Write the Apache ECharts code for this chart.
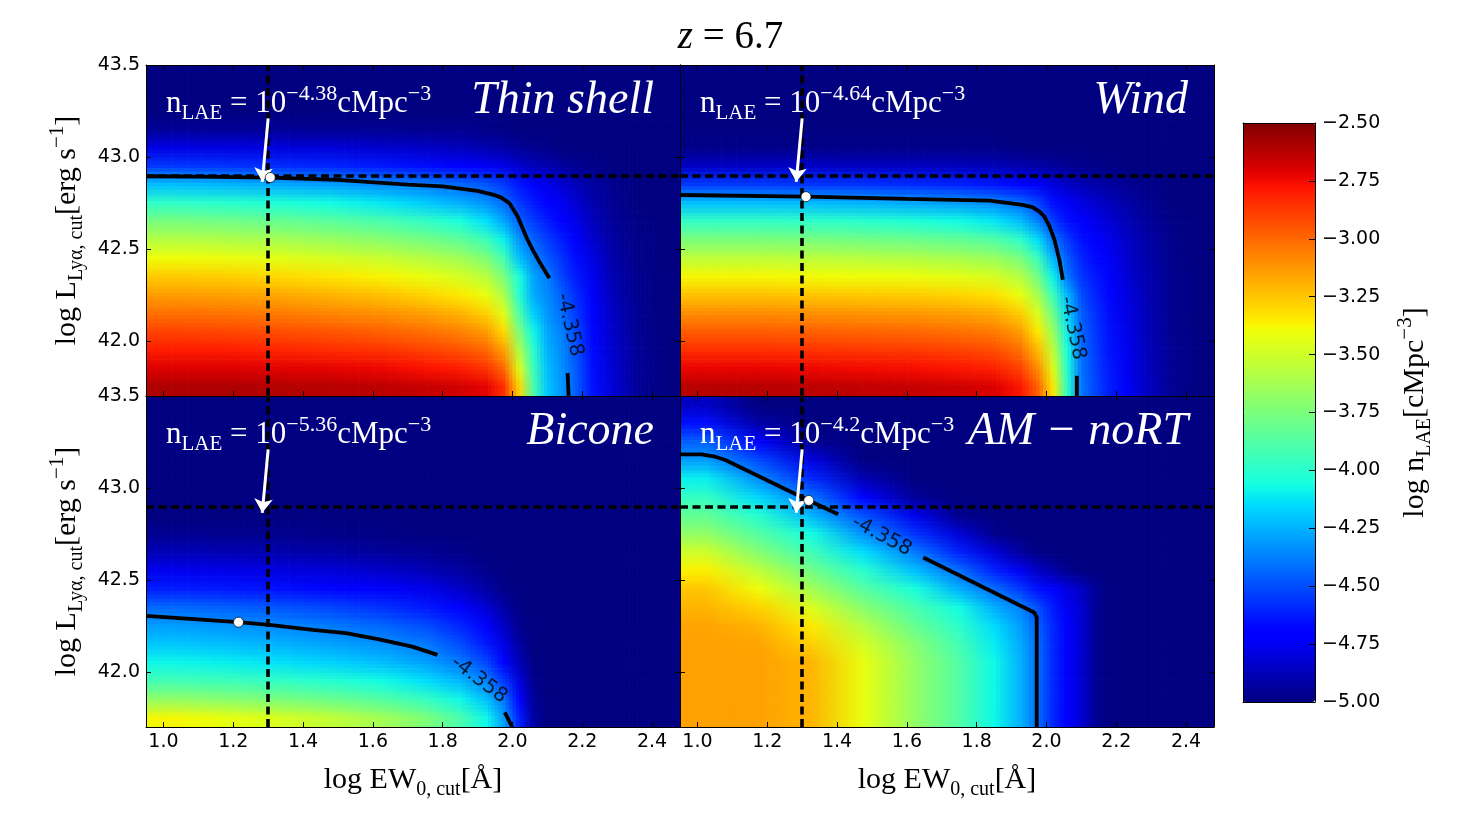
<!DOCTYPE html>
<html>
<head>
<meta charset="utf-8">
<script src="https://cdn.jsdelivr.net/npm/echarts@6/dist/echarts.min.js"></script>
<style>
  html, body { margin: 0; padding: 0; background: #fff; }
  #chart { width: 1461px; height: 826px; }
</style>
</head>
<body>
<div id="chart"></div>
<script>
// bin edges of the n_LAE grids (log EW0,cut and log L_Lya,cut)
const xEdges = [0.95, 1.1, 1.25, 1.4, 1.55, 1.7, 1.8, 1.9, 1.95, 2.0, 2.04, 2.08, 2.12, 2.16, 2.2, 2.26, 2.32, 2.4, 2.48];
const yEdges = [41.7, 41.8, 41.9, 42.0, 42.1, 42.2, 42.3, 42.4, 42.5, 42.6, 42.7, 42.8, 42.9, 43.0, 43.1, 43.2, 43.3, 43.4, 43.5];

const xTicks = [1.0, 1.2, 1.4, 1.6, 1.8, 2.0, 2.2, 2.4];
const yTicks = [42.0, 42.5, 43.0, 43.5];

// log n_LAE, one row per luminosity bin (bottom -> top), one value per EW bin
const thinShell = [
  [-2.6, -2.6, -2.61, -2.62, -2.63, -2.65, -2.68, -2.72, -2.85, -3.3, -3.9, -4.2, -4.32, -4.45, -4.65, -4.82, -4.95, -5],
  [-2.7, -2.7, -2.71, -2.72, -2.74, -2.77, -2.8, -2.86, -3.0, -3.45, -3.95, -4.22, -4.33, -4.46, -4.66, -4.83, -4.95, -5],
  [-2.8, -2.8, -2.82, -2.84, -2.86, -2.9, -2.94, -3.0, -3.15, -3.6, -4.0, -4.25, -4.35, -4.48, -4.67, -4.84, -4.95, -5],
  [-2.9, -2.91, -2.93, -2.95, -2.98, -3.02, -3.07, -3.14, -3.3, -3.75, -4.08, -4.28, -4.37, -4.5, -4.68, -4.85, -4.96, -5],
  [-3.02, -3.03, -3.05, -3.08, -3.11, -3.15, -3.2, -3.28, -3.45, -3.9, -4.18, -4.32, -4.42, -4.54, -4.7, -4.86, -4.96, -5],
  [-3.14, -3.15, -3.17, -3.2, -3.24, -3.29, -3.34, -3.42, -3.6, -4.02, -4.27, -4.35, -4.45, -4.58, -4.73, -4.88, -4.97, -5],
  [-3.26, -3.27, -3.3, -3.33, -3.37, -3.42, -3.48, -3.57, -3.75, -4.05, -4.29, -4.38, -4.52, -4.62, -4.76, -4.9, -4.97, -5],
  [-3.4, -3.41, -3.44, -3.48, -3.52, -3.58, -3.64, -3.74, -3.92, -4.22, -4.36, -4.47, -4.56, -4.66, -4.79, -4.91, -4.98, -5],
  [-3.58, -3.59, -3.62, -3.66, -3.71, -3.77, -3.84, -3.94, -4.1, -4.33, -4.45, -4.54, -4.62, -4.72, -4.83, -4.93, -4.98, -5],
  [-3.76, -3.78, -3.81, -3.85, -3.9, -3.97, -4.04, -4.14, -4.28, -4.45, -4.54, -4.62, -4.69, -4.77, -4.87, -4.95, -4.99, -5],
  [-3.98, -4.0, -4.03, -4.07, -4.12, -4.19, -4.26, -4.33, -4.42, -4.55, -4.63, -4.69, -4.75, -4.82, -4.9, -4.96, -5, -5],
  [-4.22, -4.24, -4.27, -4.3, -4.34, -4.38, -4.43, -4.48, -4.55, -4.64, -4.71, -4.77, -4.82, -4.87, -4.93, -4.97, -5, -5],
  [-4.55, -4.56, -4.58, -4.6, -4.63, -4.66, -4.7, -4.74, -4.78, -4.83, -4.87, -4.9, -4.93, -4.96, -4.98, -5, -5, -5],
  [-4.78, -4.79, -4.8, -4.81, -4.83, -4.85, -4.87, -4.9, -4.92, -4.95, -4.97, -4.98, -5, -5, -5, -5, -5, -5],
  [-4.95, -4.95, -4.95, -4.96, -4.96, -4.97, -4.97, -4.98, -4.99, -5, -5, -5, -5, -5, -5, -5, -5, -5],
  [-5, -5, -5, -5, -5, -5, -5, -5, -5, -5, -5, -5, -5, -5, -5, -5, -5, -5],
  [-5, -5, -5, -5, -5, -5, -5, -5, -5, -5, -5, -5, -5, -5, -5, -5, -5, -5],
  [-5, -5, -5, -5, -5, -5, -5, -5, -5, -5, -5, -5, -5, -5, -5, -5, -5, -5]
];
const wind = [
  [-2.62, -2.62, -2.63, -2.64, -2.65, -2.67, -2.7, -2.78, -2.98, -3.35, -4.0, -4.4, -4.52, -4.62, -4.74, -4.86, -4.96, -5],
  [-2.73, -2.73, -2.74, -2.75, -2.76, -2.78, -2.81, -2.9, -3.1, -3.45, -4.03, -4.41, -4.53, -4.63, -4.75, -4.87, -4.96, -5],
  [-2.85, -2.85, -2.86, -2.87, -2.88, -2.9, -2.93, -3.02, -3.22, -3.55, -4.06, -4.42, -4.54, -4.64, -4.76, -4.87, -4.96, -5],
  [-2.97, -2.97, -2.98, -2.99, -3.0, -3.02, -3.05, -3.14, -3.34, -3.67, -4.1, -4.44, -4.55, -4.65, -4.77, -4.88, -4.97, -5],
  [-3.1, -3.1, -3.11, -3.12, -3.13, -3.15, -3.18, -3.27, -3.47, -3.8, -4.16, -4.46, -4.57, -4.66, -4.78, -4.88, -4.97, -5],
  [-3.24, -3.24, -3.25, -3.26, -3.27, -3.29, -3.32, -3.42, -3.62, -3.95, -4.24, -4.5, -4.6, -4.68, -4.79, -4.89, -4.97, -5],
  [-3.38, -3.38, -3.39, -3.4, -3.41, -3.44, -3.48, -3.58, -3.78, -4.1, -4.4, -4.56, -4.63, -4.71, -4.81, -4.9, -4.97, -5],
  [-3.55, -3.55, -3.56, -3.57, -3.59, -3.62, -3.66, -3.76, -3.95, -4.25, -4.47, -4.6, -4.67, -4.74, -4.83, -4.91, -4.98, -5],
  [-3.75, -3.75, -3.76, -3.78, -3.8, -3.83, -3.88, -3.98, -4.15, -4.4, -4.55, -4.65, -4.71, -4.77, -4.85, -4.92, -4.98, -5],
  [-3.97, -3.97, -3.98, -4.0, -4.03, -4.07, -4.12, -4.22, -4.37, -4.55, -4.65, -4.72, -4.77, -4.82, -4.88, -4.94, -4.99, -5],
  [-4.22, -4.22, -4.23, -4.25, -4.28, -4.31, -4.35, -4.42, -4.53, -4.66, -4.74, -4.79, -4.83, -4.87, -4.92, -4.96, -5, -5],
  [-4.55, -4.55, -4.56, -4.57, -4.59, -4.61, -4.64, -4.68, -4.74, -4.8, -4.85, -4.88, -4.91, -4.93, -4.96, -4.98, -5, -5],
  [-4.85, -4.85, -4.85, -4.86, -4.86, -4.87, -4.88, -4.9, -4.92, -4.94, -4.96, -4.97, -4.98, -4.99, -5, -5, -5, -5],
  [-4.98, -4.98, -4.98, -4.98, -4.98, -4.98, -4.98, -5, -5, -5, -5, -5, -5, -5, -5, -5, -5, -5],
  [-5, -5, -5, -5, -5, -5, -5, -5, -5, -5, -5, -5, -5, -5, -5, -5, -5, -5],
  [-5, -5, -5, -5, -5, -5, -5, -5, -5, -5, -5, -5, -5, -5, -5, -5, -5, -5],
  [-5, -5, -5, -5, -5, -5, -5, -5, -5, -5, -5, -5, -5, -5, -5, -5, -5, -5],
  [-5, -5, -5, -5, -5, -5, -5, -5, -5, -5, -5, -5, -5, -5, -5, -5, -5, -5]
];
const bicone = [
  [-3.38, -3.42, -3.47, -3.54, -3.63, -3.74, -3.9, -4.08, -4.3, -4.62, -4.92, -5, -5, -5, -5, -5, -5, -5],
  [-3.68, -3.71, -3.75, -3.8, -3.87, -3.96, -4.08, -4.22, -4.4, -4.7, -4.95, -5, -5, -5, -5, -5, -5, -5],
  [-3.92, -3.94, -3.97, -4.01, -4.07, -4.14, -4.24, -4.37, -4.55, -4.8, -4.97, -5, -5, -5, -5, -5, -5, -5],
  [-4.08, -4.1, -4.13, -4.17, -4.22, -4.29, -4.39, -4.52, -4.68, -4.88, -4.99, -5, -5, -5, -5, -5, -5, -5],
  [-4.2, -4.22, -4.25, -4.29, -4.33, -4.39, -4.5, -4.63, -4.78, -4.93, -5, -5, -5, -5, -5, -5, -5, -5],
  [-4.3, -4.32, -4.35, -4.39, -4.44, -4.5, -4.6, -4.72, -4.85, -4.97, -5, -5, -5, -5, -5, -5, -5, -5],
  [-4.43, -4.45, -4.48, -4.52, -4.57, -4.63, -4.72, -4.82, -4.92, -4.99, -5, -5, -5, -5, -5, -5, -5, -5],
  [-4.62, -4.63, -4.65, -4.68, -4.72, -4.77, -4.84, -4.92, -4.98, -5, -5, -5, -5, -5, -5, -5, -5, -5],
  [-4.76, -4.77, -4.79, -4.81, -4.84, -4.88, -4.93, -4.97, -5, -5, -5, -5, -5, -5, -5, -5, -5, -5],
  [-4.88, -4.89, -4.9, -4.92, -4.94, -4.96, -4.98, -5, -5, -5, -5, -5, -5, -5, -5, -5, -5, -5],
  [-4.96, -4.97, -4.97, -4.98, -4.99, -5, -5, -5, -5, -5, -5, -5, -5, -5, -5, -5, -5, -5],
  [-5, -5, -5, -5, -5, -5, -5, -5, -5, -5, -5, -5, -5, -5, -5, -5, -5, -5],
  [-5, -5, -5, -5, -5, -5, -5, -5, -5, -5, -5, -5, -5, -5, -5, -5, -5, -5],
  [-5, -5, -5, -5, -5, -5, -5, -5, -5, -5, -5, -5, -5, -5, -5, -5, -5, -5],
  [-5, -5, -5, -5, -5, -5, -5, -5, -5, -5, -5, -5, -5, -5, -5, -5, -5, -5],
  [-5, -5, -5, -5, -5, -5, -5, -5, -5, -5, -5, -5, -5, -5, -5, -5, -5, -5],
  [-5, -5, -5, -5, -5, -5, -5, -5, -5, -5, -5, -5, -5, -5, -5, -5, -5, -5],
  [-5, -5, -5, -5, -5, -5, -5, -5, -5, -5, -5, -5, -5, -5, -5, -5, -5, -5]
];
const amNoRT = [
  [-3.15, -3.15, -3.2, -3.42, -3.68, -3.88, -4.08, -4.25, -4.42, -4.6, -4.72, -4.82, -4.95, -5, -5, -5, -5, -5],
  [-3.15, -3.15, -3.2, -3.42, -3.68, -3.88, -4.08, -4.25, -4.42, -4.6, -4.72, -4.82, -4.95, -5, -5, -5, -5, -5],
  [-3.15, -3.15, -3.2, -3.42, -3.68, -3.88, -4.08, -4.25, -4.42, -4.6, -4.72, -4.82, -4.95, -5, -5, -5, -5, -5],
  [-3.15, -3.15, -3.2, -3.42, -3.68, -3.88, -4.08, -4.25, -4.42, -4.6, -4.72, -4.82, -4.95, -5, -5, -5, -5, -5],
  [-3.15, -3.16, -3.27, -3.48, -3.72, -3.92, -4.11, -4.27, -4.42, -4.6, -4.72, -4.82, -4.95, -5, -5, -5, -5, -5],
  [-3.16, -3.2, -3.34, -3.58, -3.82, -3.99, -4.15, -4.3, -4.45, -4.6, -4.72, -4.82, -4.95, -5, -5, -5, -5, -5],
  [-3.2, -3.28, -3.46, -3.71, -3.91, -4.07, -4.26, -4.37, -4.5, -4.63, -4.75, -4.82, -4.95, -5, -5, -5, -5, -5],
  [-3.25, -3.4, -3.63, -3.86, -4.05, -4.26, -4.42, -4.55, -4.65, -4.71, -4.79, -4.85, -4.95, -5, -5, -5, -5, -5],
  [-3.36, -3.55, -3.78, -4.0, -4.22, -4.42, -4.61, -4.75, -4.85, -4.91, -4.97, -5, -5, -5, -5, -5, -5, -5],
  [-3.5, -3.72, -3.93, -4.14, -4.39, -4.61, -4.81, -4.93, -4.99, -5, -5, -5, -5, -5, -5, -5, -5, -5],
  [-3.68, -3.87, -4.06, -4.33, -4.57, -4.81, -4.97, -5, -5, -5, -5, -5, -5, -5, -5, -5, -5, -5],
  [-3.83, -4.01, -4.24, -4.49, -4.77, -4.97, -5, -5, -5, -5, -5, -5, -5, -5, -5, -5, -5, -5],
  [-3.97, -4.16, -4.4, -4.69, -4.95, -5, -5, -5, -5, -5, -5, -5, -5, -5, -5, -5, -5, -5],
  [-4.1, -4.34, -4.59, -4.89, -5, -5, -5, -5, -5, -5, -5, -5, -5, -5, -5, -5, -5, -5],
  [-4.3, -4.51, -4.79, -5, -5, -5, -5, -5, -5, -5, -5, -5, -5, -5, -5, -5, -5, -5],
  [-4.45, -4.71, -4.96, -5, -5, -5, -5, -5, -5, -5, -5, -5, -5, -5, -5, -5, -5, -5],
  [-4.65, -4.91, -5, -5, -5, -5, -5, -5, -5, -5, -5, -5, -5, -5, -5, -5, -5, -5],
  [-4.85, -5, -5, -5, -5, -5, -5, -5, -5, -5, -5, -5, -5, -5, -5, -5, -5, -5]
];

// iso-contour log n_LAE = -4.358 (two pieces, gap where the label sits)
const thinShellContourA = [[0.95, 42.895], [1.1, 42.893], [1.306, 42.888], [1.5, 42.875], [1.7, 42.85], [1.8, 42.84], [1.9, 42.815], [1.944, 42.795], [1.967, 42.78], [1.991, 42.749], [2.015, 42.676], [2.039, 42.567], [2.058, 42.495], [2.08, 42.42], [2.106, 42.34]];
const thinShellContourB = [[2.158, 41.824], [2.161, 41.7]];
const windContourA = [[0.95, 42.793], [1.311, 42.784], [1.6, 42.772], [1.837, 42.763], [1.932, 42.739], [1.961, 42.726], [1.98, 42.703], [1.994, 42.676], [2.009, 42.621], [2.023, 42.549], [2.037, 42.44], [2.047, 42.332]];
const windContourB = [[2.087, 41.81], [2.087, 41.7]];
const biconeContourA = [[0.95, 42.304], [1.215, 42.27], [1.304, 42.255], [1.428, 42.228], [1.523, 42.21], [1.618, 42.177], [1.713, 42.137], [1.785, 42.092]];
const biconeContourB = [[1.978, 41.78], [1.999, 41.7]];
const amNoRTContourA = [[0.95, 43.183], [1.011, 43.183], [1.051, 43.17], [1.08, 43.152], [1.319, 42.932], [1.403, 42.857]];
const amNoRTContourB = [[1.647, 42.622], [1.965, 42.323], [1.972, 42.296], [1.972, 41.7]];

const contourLevel = '-4.358';
const contourLabelAt = [[2.163, 42.087], [2.075, 42.069], [1.904, 41.957], [1.528, 42.739]];
const contourLabelRotate = [-77, -78, -37, -28];

const selectedPoints = [[1.306, 42.888], [1.311, 42.784], [1.215, 42.27], [1.319, 42.932]];
const ewCut = 1.3;
const lumCut = 42.9;
const arrowFrom = [1.3, 43.21];
const arrowTo = [1.283, 42.865];

const panelNames = ['Thin shell', 'Wind', 'Bicone', 'AM \u2212 noRT'];
const nExponents = ['\u22124.38', '\u22124.64', '\u22125.36', '\u22124.2'];

const cbarMin = -5.0, cbarMax = -2.5, cbarStep = 0.25;

// ---- jet colormap (matplotlib segment data)
const jetR = [[0, 0], [0.35, 0], [0.66, 1], [0.89, 1], [1, 0.5]];
const jetG = [[0, 0], [0.125, 0], [0.375, 1], [0.64, 1], [0.91, 0], [1, 0]];
const jetB = [[0, 0.5], [0.11, 1], [0.34, 1], [0.65, 0], [1, 0]];
function seg(s, t) {
  for (let i = 1; i < s.length; i++) {
    if (t <= s[i][0]) {
      const a = s[i - 1], b = s[i];
      return a[1] + (b[1] - a[1]) * (t - a[0]) / (b[0] - a[0]);
    }
  }
  return s[s.length - 1][1];
}
const jet = [];
for (let i = 0; i <= 64; i++) {
  const t = i / 64;
  jet.push('rgb(' + Math.round(255 * seg(jetR, t)) + ',' + Math.round(255 * seg(jetG, t)) + ',' + Math.round(255 * seg(jetB, t)) + ')');
}

// ---- layout
const panelLeft = [146, 680, 146, 680];
const panelTop = [65, 65, 396, 396];
const panelW = 534, panelH = 331;
const xRange = [0.95, 2.48];
const yRange = [41.7, 43.5];

const fields = [thinShell, wind, bicone, amNoRT];
const contoursA = [thinShellContourA, windContourA, biconeContourA, amNoRTContourA];
const contoursB = [thinShellContourB, windContourB, biconeContourB, amNoRTContourB];

const nCols = xEdges.length - 1, nRows = yEdges.length - 1;
const xMid = xEdges.slice(1).map((e, k) => (e + xEdges[k]) / 2);
const yMid = yEdges.slice(1).map((e, j) => (e + yEdges[j]) / 2);

const serif = 'Liberation Serif';
const axisFont = { fontFamily: 'DejaVu Sans', fontSize: 19, color: '#000' };

function richStyles(size, fill) {
  const sub = Math.round(size * 0.68), sup = Math.round(size * 0.7);
  return {
    m: { fontFamily: serif, fontSize: size, lineHeight: size + 10, fill: fill, verticalAlign: 'middle' },
    i: { fontFamily: serif, fontStyle: 'italic', fontSize: size, lineHeight: size + 10, fill: fill, verticalAlign: 'middle' },
    s: { fontFamily: serif, fontSize: sub, lineHeight: sub + 6, fill: fill, verticalAlign: 'bottom' },
    p: { fontFamily: serif, fontSize: sup, lineHeight: sup, fill: fill, verticalAlign: 'top' }
  };
}

function cells(rows) {
  const out = [];
  rows.forEach((row, j) => {
    row.forEach((v, k) => {
      out.push([xEdges[k], xEdges[k + 1], yEdges[j], yEdges[j + 1], v]);
    });
  });
  return out;
}

function rgbOf(c) {
  const p = echarts.color.parse(c);
  return [p[0], p[1], p[2]];
}

// each bin is shaded smoothly between the visualMap colours of its neighbours (gouraud-like)
function renderCell(params, api) {
  const idx = params.dataIndexInside;
  const j = Math.floor(idx / nCols), k = idx % nCols;
  const a = api.coord([api.value(0), api.value(3)]);
  const b = api.coord([api.value(1), api.value(2)]);
  const w = b[0] - a[0], h = b[1] - a[1];
  const col = (jj, kk) => rgbOf(api.visual('color', jj * nCols + kk));
  const nx = Math.max(1, Math.ceil(w / 4)), ny = Math.max(1, Math.ceil(h / 4));
  const children = [];
  for (let iy = 0; iy < ny; iy++) {
    const ym = yEdges[j + 1] - (iy + 0.5) / ny * (yEdges[j + 1] - yEdges[j]);
    let jj = ym < yMid[j] ? j - 1 : j + 1;
    jj = Math.min(nRows - 1, Math.max(0, jj));
    const wy = jj === j ? 0 : Math.min(1, Math.abs(ym - yMid[j]) / Math.abs(yMid[jj] - yMid[j]));
    for (let ix = 0; ix < nx; ix++) {
      const xm = xEdges[k] + (ix + 0.5) / nx * (xEdges[k + 1] - xEdges[k]);
      let kk = xm < xMid[k] ? k - 1 : k + 1;
      kk = Math.min(nCols - 1, Math.max(0, kk));
      const wx = kk === k ? 0 : Math.min(1, Math.abs(xm - xMid[k]) / Math.abs(xMid[kk] - xMid[k]));
      const c00 = col(j, k), c01 = col(j, kk), c10 = col(jj, k), c11 = col(jj, kk);
      const rgb = [0, 1, 2].map(q => Math.round(
        (1 - wx) * (1 - wy) * c00[q] + wx * (1 - wy) * c01[q] + (1 - wx) * wy * c10[q] + wx * wy * c11[q]));
      children.push({
        type: 'rect',
        shape: { x: a[0] + w * ix / nx, y: a[1] + h * iy / ny, width: w / nx + 0.7, height: h / ny + 0.7 },
        style: { fill: 'rgb(' + rgb.join(',') + ')' }
      });
    }
  }
  return { type: 'group', children: children };
}

function makeAxis(gridIndex, position, range, ticks, showLabel) {
  return {
    type: 'value', gridIndex: gridIndex, position: position,
    min: range[0], max: range[1],
    axisLine: { show: true, onZero: false, lineStyle: { color: '#000', width: 1 } },
    axisTick: { show: true, inside: true, length: 5, customValues: ticks, lineStyle: { color: '#000', width: 1 } },
    axisLabel: Object.assign({ show: showLabel, customValues: ticks, formatter: v => v.toFixed(1), margin: 6 }, axisFont),
    splitLine: { show: false },
    z: 10
  };
}

const grid = [], xAxis = [], yAxis = [], series = [], graphic = [];
const heatIndex = [];

fields.forEach((rows, i) => {
  grid.push({ left: panelLeft[i], top: panelTop[i], width: panelW, height: panelH, outerBoundsMode: 'none' });
  xAxis.push(makeAxis(i, 'bottom', xRange, xTicks, i >= 2));
  xAxis.push(makeAxis(i, 'top', xRange, xTicks, false));
  yAxis.push(makeAxis(i, 'left', yRange, yTicks, i % 2 === 0));
  yAxis.push(makeAxis(i, 'right', yRange, yTicks, false));
  const xi = 2 * i, yi = 2 * i;

  heatIndex.push(series.length);
  series.push({
    type: 'custom', xAxisIndex: xi, yAxisIndex: yi, silent: true, clip: true, z: 1,
    data: cells(rows),
    encode: { x: [0, 1], y: [2, 3] },
    renderItem: renderCell
  });

  series.push({
    type: 'line', xAxisIndex: xi, yAxisIndex: yi, silent: true, z: 3,
    data: contoursA[i], symbol: 'none',
    lineStyle: { color: '#000', width: 3.8 },
    markLine: {
      silent: true, symbol: 'none', label: { show: false },
      lineStyle: { color: '#000', width: 3.6, type: [8, 4.5] },
      data: [{ xAxis: ewCut }, { yAxis: lumCut }]
    }
  });
  series.push({
    type: 'line', xAxisIndex: xi, yAxisIndex: yi, silent: true, z: 3,
    data: contoursB[i], symbol: 'none',
    lineStyle: { color: '#000', width: 3.8 }
  });
  series.push({
    type: 'scatter', xAxisIndex: xi, yAxisIndex: yi, silent: true, z: 4,
    data: [contourLabelAt[i]], symbolSize: 1, itemStyle: { color: 'rgba(0,0,0,0)' },
    label: {
      show: true, position: 'inside', formatter: contourLevel, rotate: contourLabelRotate[i],
      color: '#000', fontFamily: 'DejaVu Sans', fontSize: 20
    }
  });
  series.push({
    type: 'scatter', xAxisIndex: xi, yAxisIndex: yi, silent: true, z: 6,
    data: [selectedPoints[i]], symbolSize: 10,
    itemStyle: { color: '#fff', opacity: 1, borderColor: '#000', borderWidth: 0.7 },
    markLine: {
      silent: true, symbol: ['none', 'arrow'], symbolSize: 14, label: { show: false },
      itemStyle: { color: '#fff', opacity: 1 },
      lineStyle: { color: '#fff', width: 3, type: 'solid', opacity: 1 },
      data: [[{ coord: arrowFrom }, { coord: arrowTo }]]
    }
  });

  // in-panel annotations
  graphic.push({
    type: 'text', z: 100, x: panelLeft[i] + 20, y: panelTop[i] + 18,
    style: {
      text: '{m|n}{s|LAE}{m| = 10}{p|' + nExponents[i] + '}{m|cMpc}{p|\u22123}',
      rich: richStyles(31, '#fff'), fill: '#fff', align: 'left', verticalAlign: 'top'
    }
  });
  graphic.push({
    type: 'text', z: 100, x: panelLeft[i] + 508, y: panelTop[i] + 8,
    style: {
      text: '{i|' + panelNames[i] + '}',
      rich: { i: { fontFamily: serif, fontStyle: 'italic', fontSize: 46, lineHeight: 56, fill: '#fff' } },
      fill: '#fff', align: 'right', verticalAlign: 'top'
    }
  });
});

// colour bar frame + ticks
grid.push({ left: 1243, top: 123, width: 72, height: 579, outerBoundsMode: 'none' });
const frameAxis = (pos, range) => ({
  type: 'value', gridIndex: 4, position: pos, min: range[0], max: range[1], z: 10,
  axisLine: { show: true, onZero: false, lineStyle: { color: '#000', width: 1 } },
  axisTick: { show: false }, axisLabel: { show: false }, splitLine: { show: false }
});
xAxis.push(frameAxis('bottom', [0, 1]), frameAxis('top', [0, 1]));
yAxis.push(frameAxis('left', [cbarMin, cbarMax]));
yAxis.push({
  type: 'value', gridIndex: 4, position: 'right', min: cbarMin, max: cbarMax, interval: cbarStep, z: 10,
  axisLine: { show: true, onZero: false, lineStyle: { color: '#000', width: 1 } },
  axisTick: { show: true, inside: true, length: 6, lineStyle: { color: '#000' } },
  axisLabel: Object.assign({ margin: 7, formatter: v => v.toFixed(2).replace('-', '\u2212') }, axisFont),
  splitLine: { show: false }
});

// titles and axis names
graphic.push({
  type: 'text', z: 100, x: 730.5, y: 38,
  style: { text: '{i|z}{m| = 6.7}', rich: richStyles(39, '#000'), align: 'center', verticalAlign: 'middle' }
});
[230.5, 561.5].forEach(cy => {
  graphic.push({
    type: 'text', z: 100, x: 67, y: cy, rotation: Math.PI / 2,
    style: {
      text: '{m|log L}{s|Ly\u03b1, cut}{m|[erg s}{p|\u22121}{m|]}',
      rich: richStyles(30, '#000'), align: 'center', verticalAlign: 'middle'
    }
  });
});
[413, 947].forEach(cx => {
  graphic.push({
    type: 'text', z: 100, x: cx, y: 780,
    style: {
      text: '{m|log EW}{s|0, cut}{m|[\u00c5]}',
      rich: richStyles(30, '#000'), align: 'center', verticalAlign: 'middle'
    }
  });
});
graphic.push({
  type: 'text', z: 100, x: 1415, y: 412.5, rotation: Math.PI / 2,
  style: {
    text: '{m|log n}{s|LAE}{m|[cMpc}{p|\u22123}{m|]}',
    rich: richStyles(30, '#000'), align: 'center', verticalAlign: 'middle'
  }
});

const option = {
  animation: false,
  backgroundColor: '#fff',
  grid: grid,
  xAxis: xAxis,
  yAxis: yAxis,
  visualMap: {
    type: 'continuous', min: cbarMin, max: cbarMax, dimension: 4, seriesIndex: heatIndex,
    calculable: false, hoverLink: false, orient: 'vertical', padding: 0,
    left: 1243, top: 123, itemWidth: 72, itemHeight: 579, text: null,
    inRange: { color: jet }
  },
  series: series,
  graphic: graphic
};

const chart = echarts.init(document.getElementById('chart'));
chart.setOption(option);
</script>
</body>
</html>
